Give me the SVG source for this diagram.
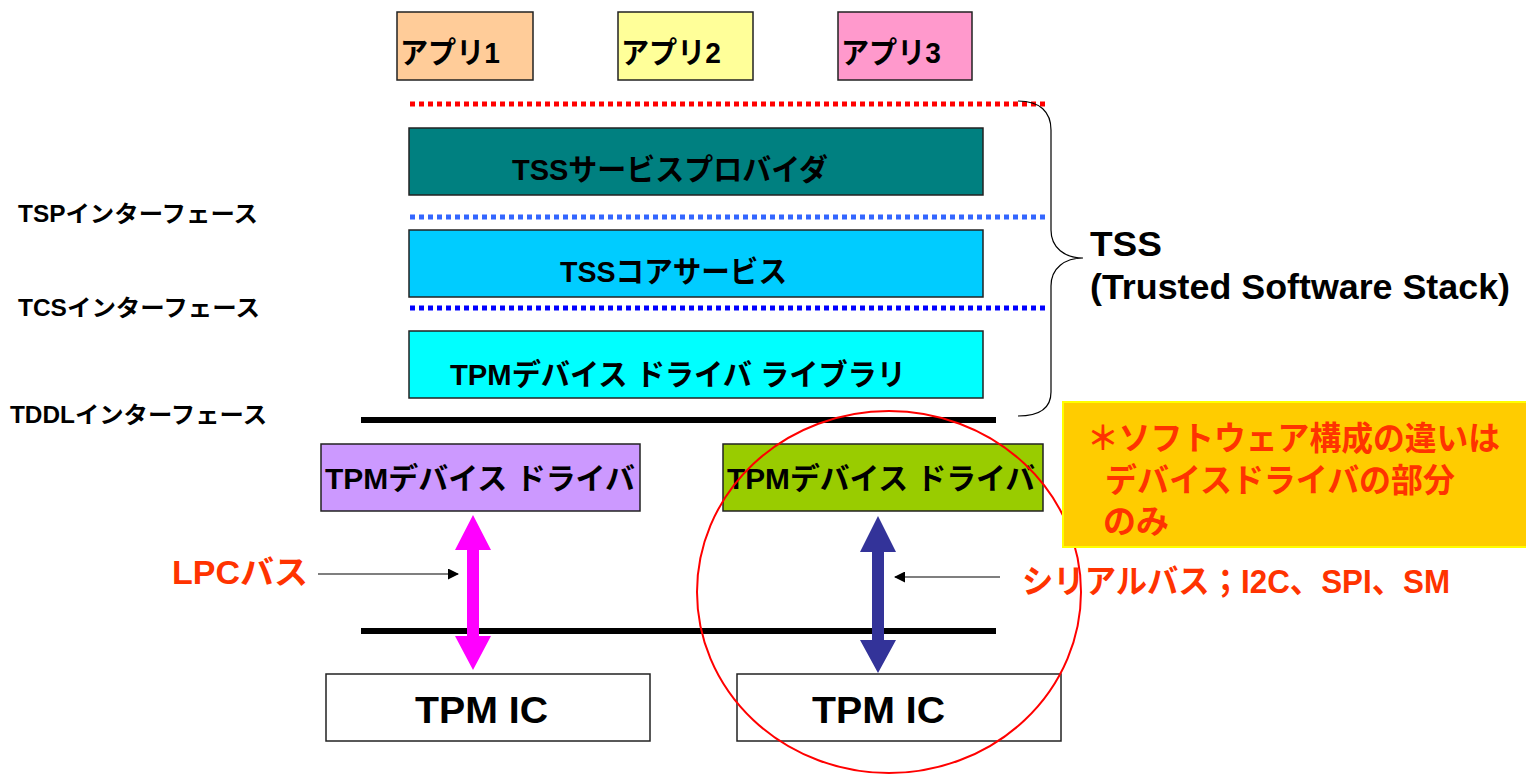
<svg xmlns="http://www.w3.org/2000/svg" width="1526" height="774" viewBox="0 0 1526 774">
  <style>
    text { font-family: "Liberation Sans", "Noto Sans CJK JP", sans-serif; font-weight: bold; }
    .box { stroke: #222; stroke-width: 1.5; }
    .lbl { font-size: 30px; fill: #000; }
    .side { font-size: 23px; fill: #000; }
    .red { fill: #FF3300; font-size: 33px; }
    .ic { font-size: 37px; fill: #000; }
    .dot { fill: none; stroke-width: 5; stroke-dasharray: 5 4; }
    .bar { stroke: #000; stroke-width: 6; }
    .thin { stroke: #000; stroke-width: 1.2; fill: none; }
  </style>
  <defs>
    <marker id="tip" markerWidth="11" markerHeight="11" refX="10" refY="5.5" orient="auto" markerUnits="userSpaceOnUse">
      <path d="M0,0 L11,5.5 L0,11 z" fill="#000"/>
    </marker>
  </defs>
  <rect width="1526" height="774" fill="#fff"/>

  <!-- applications -->
  <g id="app1"><rect class="box" x="397" y="12" width="136" height="68" fill="#FFCC99"/><text class="lbl" x="400" y="63" textLength="100" lengthAdjust="spacingAndGlyphs">アプリ1</text></g>
  <g id="app2"><rect class="box" x="618" y="12" width="135" height="68" fill="#FFFF99"/><text class="lbl" x="621" y="63" textLength="100" lengthAdjust="spacingAndGlyphs">アプリ2</text></g>
  <g id="app3"><rect class="box" x="838" y="12" width="134" height="68" fill="#FF99CC"/><text class="lbl" x="841" y="63" textLength="100" lengthAdjust="spacingAndGlyphs">アプリ3</text></g>

  <!-- interface boundaries -->
  <g id="interfaces">
    <line class="dot" x1="410" y1="104" x2="1045" y2="104" stroke="#FF0000"/>
    <line class="dot" x1="410" y1="217" x2="1045" y2="217" stroke="#3366FF"/>
    <line class="dot" x1="410" y1="308" x2="1045" y2="308" stroke="#0000FF"/>
    <line class="bar" x1="361" y1="420" x2="996" y2="420"/>
    <line class="bar" x1="361" y1="631" x2="996" y2="631"/>
    <text class="side" x="18" y="222" textLength="240" lengthAdjust="spacingAndGlyphs">TSPインターフェース</text>
    <text class="side" x="18" y="316" textLength="242" lengthAdjust="spacingAndGlyphs">TCSインターフェース</text>
    <text class="side" x="10" y="423" textLength="257" lengthAdjust="spacingAndGlyphs">TDDLインターフェース</text>
  </g>

  <!-- TSS layers -->
  <g id="tsp"><rect class="box" x="409" y="128" width="574" height="67" fill="#008080"/><text class="lbl" x="512" y="180" textLength="316" lengthAdjust="spacingAndGlyphs">TSSサービスプロバイダ</text></g>
  <g id="tcs"><rect class="box" x="409" y="230" width="574" height="67" fill="#00CCFF"/><text class="lbl" x="560" y="282" textLength="227" lengthAdjust="spacingAndGlyphs">TSSコアサービス</text></g>
  <g id="tddl"><rect class="box" x="409" y="331" width="574" height="67" fill="#00FFFF"/><text class="lbl" x="450" y="385" textLength="456" lengthAdjust="spacingAndGlyphs">TPMデバイス  ドライバ  ライブラリ</text></g>

  <!-- TSS brace and caption -->
  <g id="tss-brace">
    <path class="thin" d="M1018,101 C1040,101 1051,112 1051,130 L1051,230 C1051,248 1065,258 1083,258 C1065,258 1051,268 1051,286 L1051,392 C1051,408 1040,416 1018,416"/>
    <text x="1090" y="256" font-size="35" fill="#000" textLength="72" lengthAdjust="spacingAndGlyphs">TSS</text>
    <text x="1090" y="299" font-size="35" fill="#000" textLength="420" lengthAdjust="spacingAndGlyphs">(Trusted Software Stack)</text>
  </g>

  <!-- device drivers -->
  <g id="driver-lpc"><rect class="box" x="321" y="444" width="319" height="67" fill="#CC99FF"/><text class="lbl" x="325" y="489" textLength="310" lengthAdjust="spacingAndGlyphs">TPMデバイス  ドライバ</text></g>
  <g id="driver-serial"><rect class="box" x="723" y="444" width="320" height="67" fill="#99CC00"/><text class="lbl" x="727" y="489" textLength="308" lengthAdjust="spacingAndGlyphs">TPMデバイス  ドライバ</text></g>

  <!-- TPM chips -->
  <g id="tpm-lpc"><rect class="box" x="326" y="674" width="324" height="67" fill="#fff"/><text class="ic" x="415" y="723" textLength="133" lengthAdjust="spacingAndGlyphs">TPM IC</text></g>
  <g id="tpm-serial"><rect class="box" x="737" y="674" width="324" height="67" fill="#fff"/><text class="ic" x="812" y="723" textLength="133" lengthAdjust="spacingAndGlyphs">TPM IC</text></g>

  <!-- bus connectors -->
  <g id="connectors">
    <polygon fill="#FF00FF" points="473,515 491,550 479,550 479,636 491,636 473,670 455,636 467,636 467,550 455,550"/>
    <polygon fill="#333399" points="878,516 896,552 884,552 884,640 896,640 878,673 860,640 872,640 872,552 860,552"/>
    <line class="thin" x1="318" y1="574" x2="458" y2="574" marker-end="url(#tip)"/>
    <line class="thin" x1="1000" y1="577" x2="895" y2="577" marker-end="url(#tip)"/>
  </g>

  <!-- bus labels -->
  <g id="bus-labels">
    <text class="red" x="172" y="584" textLength="136" lengthAdjust="spacingAndGlyphs">LPCバス</text>
    <text class="red" x="1022" y="593" textLength="428" lengthAdjust="spacingAndGlyphs">シリアルバス；I2C、SPI、SM</text>
  </g>

  <!-- highlight of the differing part -->
  <g id="highlight">
    <ellipse cx="889" cy="592" rx="192" ry="181" fill="none" stroke="#FF0000" stroke-width="2"/>
  </g>

  <!-- note -->
  <g id="note">
    <rect x="1063" y="402" width="470" height="145" fill="#FFCC00" stroke="#FFFF00" stroke-width="2"/>
    <text class="red" x="1087" y="450" textLength="413" lengthAdjust="spacingAndGlyphs">＊ソフトウェア構成の違いは</text>
    <text class="red" x="1105" y="492" textLength="350" lengthAdjust="spacingAndGlyphs">デバイスドライバの部分</text>
    <text class="red" x="1103" y="533" textLength="66" lengthAdjust="spacingAndGlyphs">のみ</text>
  </g>
</svg>
